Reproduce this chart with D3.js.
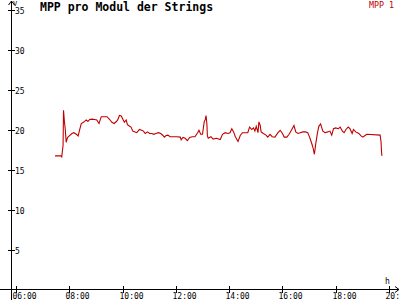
<!DOCTYPE html>
<html><head><meta charset="utf-8">
<script src="https://cdn.jsdelivr.net/npm/d3@7"></script>
<style>
html,body{margin:0;padding:0;background:#fff;}
svg{display:block;}
text{font-family:"DejaVu Sans Mono","Liberation Mono",monospace;}
</style></head>
<body>
<svg id="c" width="400" height="300"></svg>
<script>
const title = "MPP pro Modul der Strings";
const seriesName = "MPP 1";
const yUnit = "V";
const xUnit = "h";
const yTicks = [5, 10, 15, 20, 25, 30, 35];
const xTickLabels = ["06:00","08:00","10:00","12:00","14:00","16:00","18:00","20:00"];
const times = ["07:28","07:42","07:43","07:46","07:47","07:49","07:51","07:53","07:56","08:00","08:06","08:10","08:16","08:20","08:23","08:27","08:32","08:38","08:42","08:46","08:51","08:57","09:02","09:07","09:12","09:25","09:31",
"09:36","09:41","09:46","09:49","09:53","09:57","10:01","10:04","10:08","10:11","10:16","10:19","10:23","10:28","10:32","10:38","10:43","10:47","10:51","10:56","11:01","11:06","11:10","11:15","11:21","11:26","11:31","11:34","11:38","11:42","11:47",
"11:55","12:02","12:10","12:12","12:16","12:21","12:26","12:31","12:37","12:43","12:49","12:52","12:56","13:00","13:04","13:06","13:08","13:10","13:11","13:13","13:19","13:24","13:31","13:40","13:45","13:51","13:57","14:02",
"14:06","14:10","14:14","14:20","14:25","14:30","14:36","14:42","14:46","14:51","14:55","14:58","15:01","15:05","15:07","15:10","15:12","15:17","15:23","15:27","15:32","15:37","15:43","15:50","15:55","16:00","16:04","16:10","16:15",
"16:17","16:22","16:26","16:30","16:35","16:40","16:46","16:52","16:57","17:00","17:03","17:06","17:09","17:12","17:15","17:19","17:22","17:26","17:31","17:36","17:42","17:47","17:51","17:55","18:00","18:06","18:10","18:15","18:19",
"18:23","18:28","18:32","18:37","18:40","18:45","18:49","18:52","18:57","19:01","19:06","19:10","19:40","19:42","19:43","19:44"];
const values = [16.7,16.7,16.6,18.0,22.4,21.0,20.0,18.4,19.0,19.2,19.5,19.6,19.4,19.2,19.9,20.75,20.9,21.2,21.0,21.25,21.3,21.25,21.2,20.75,21.6,21.6,21.25,
20.9,20.75,21.0,21.2,21.75,21.7,21.25,20.9,21.2,20.6,20.4,20.3,19.8,19.7,19.6,20.0,19.9,19.8,19.5,19.7,19.5,19.5,19.4,19.5,19.6,19.5,19.25,19.05,19.25,19.3,19.1,
19.1,19.1,19.05,18.7,19.0,18.9,18.6,19.0,19.1,19.1,19.6,19.9,19.4,19.4,21.0,21.2,21.75,20.6,19.2,18.9,19.1,18.8,18.9,18.75,19.4,19.6,19.5,19.6,
20.1,19.7,19.1,18.5,19.25,19.6,19.6,19.6,20.3,20.0,20.2,19.8,20.4,19.6,20.95,20.5,19.7,19.5,19.3,19.05,19.4,19.1,19.05,19.6,19.9,19.5,19.05,19.05,19.4,
19.6,20.1,20.5,19.7,19.5,19.6,19.7,19.7,19.6,19.2,18.75,18.25,17.7,16.9,18.2,19.6,20.4,20.7,19.8,19.6,19.7,19.8,19.3,20.1,20.2,20.1,20.3,19.8,19.6,
20.0,20.3,20.1,19.5,20.0,19.7,19.6,19.5,19.2,19.05,19.25,19.4,19.3,18.5,17.4,16.7];

const parse = d3.timeParse("%H:%M");
const data = times.map((t, i) => ({t: parse(t), v: values[i]}));

const svg = d3.select("#c");
svg.append("rect").attr("width",400).attr("height",300).attr("fill","#fff");

const x = d3.scaleTime().domain([parse("06:00"), parse("20:00")]).range([16, 389]);
const y = d3.scaleLinear().domain([0, 35]).range([289.5, 9.5]);

// axes lines
svg.append("line").attr("x1",11.5).attr("x2",11.5).attr("y1",1).attr("y2",300)
  .attr("stroke","#000").attr("stroke-width",1).attr("shape-rendering","crispEdges");
svg.append("line").attr("x1",0).attr("x2",399).attr("y1",289.5).attr("y2",289.5)
  .attr("stroke","#000").attr("stroke-width",1).attr("shape-rendering","crispEdges");
// arrows
svg.append("path").attr("d","M8.5,5 L11.5,1 L14.5,5").attr("fill","none").attr("stroke","#000").attr("stroke-width",1);
svg.append("path").attr("d","M395,286.5 L399,289.5 L395,292.5").attr("fill","none").attr("stroke","#000").attr("stroke-width",1);

// y ticks
const yg = svg.append("g");
yTicks.forEach(v => {
  yg.append("line").attr("x1",8).attr("x2",15).attr("y1",Math.round(y(v))+0.5).attr("y2",Math.round(y(v))+0.5)
    .attr("stroke","#000").attr("shape-rendering","crispEdges");
  yg.append("text").attr("x",15).attr("y",Math.round(y(v))+3.5).attr("font-size",8).attr("fill","#000").text(v);
});
// x ticks
const xg = svg.append("g");
xTickLabels.forEach(s => {
  const px = Math.round(x(parse(s))) + 0.5;
  xg.append("line").attr("x1",px).attr("x2",px).attr("y1",286).attr("y2",293)
    .attr("stroke","#000").attr("shape-rendering","crispEdges");
  xg.append("text").attr("x",px-4).attr("y",299).attr("font-size",8).attr("fill","#000").text(s);
});

// units
svg.append("text").attr("x",13).attr("y",6).attr("font-size",7).attr("fill","#000").text(yUnit);
svg.append("text").attr("x",385).attr("y",284).attr("font-size",8).attr("fill","#000").text(xUnit);

// title
svg.append("text").attr("x",40).attr("y",11).attr("font-size",11.5).attr("font-weight","bold").attr("fill","#000").text(title);
// legend
svg.append("text").attr("x",394).attr("y",8).attr("text-anchor","end").attr("font-size",8.3).attr("fill","#c00000").text(seriesName);

// line
const line = d3.line().x(d => x(d.t)).y(d => y(d.v));
svg.append("path").datum(data).attr("d", line).attr("fill","none")
  .attr("stroke","#c00000").attr("stroke-width",1.1);
</script>
</body></html>
